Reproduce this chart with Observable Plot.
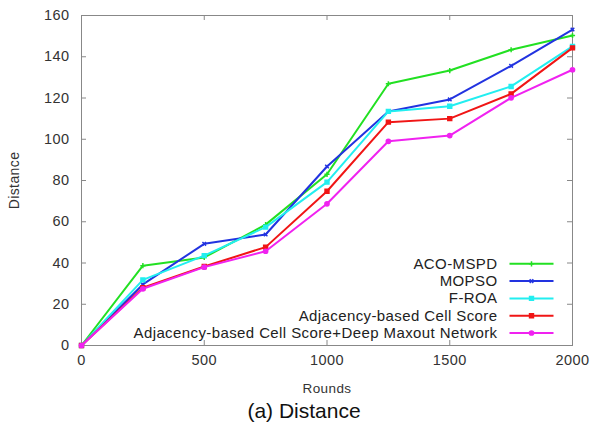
<!DOCTYPE html>
<html>
<head>
<meta charset="utf-8">
<script src="https://cdn.jsdelivr.net/npm/d3@7"></script>
<script src="https://cdn.jsdelivr.net/npm/@observablehq/plot@0.6"></script>
<style>
  body { margin: 0; background: #fff; }
  #caption { width: 572px; padding-left: 18px; text-align: center; font-family: "Liberation Sans", Arial, sans-serif; font-size: 21px; line-height: 26px; color: #111; }
</style>
</head>
<body>
<div id="chart"></div>
<div id="caption">(a) Distance</div>
<script>
const rounds = [0, 250, 500, 750, 1000, 1250, 1500, 1750, 2000];
const acoMspd = [0, 38.7, 42.7, 58.6, 83, 126.9, 133.3, 143.4, 150.3];
const mopso   = [0, 29.6, 49.3, 53.8, 86.8, 113.5, 119.3, 135.6, 153.2];
const fRoa    = [0, 31.8, 43.6, 57.4, 79.2, 113.5, 116, 125.6, 145];
const adjCell = [0, 28, 38.3, 47.7, 74.8, 108.3, 110, 122, 144.3];
const adjDeep = [0, 27.5, 38, 45.7, 68.7, 99, 101.8, 120.1, 133.7];

const seriesNames = ["ACO-MSPD", "MOPSO", "F-ROA", "Adjacency-based Cell Score", "Adjacency-based Cell Score+Deep Maxout Network"];
const seriesValues = [acoMspd, mopso, fRoa, adjCell, adjDeep];
const seriesColors = ["#22e022", "#2233e0", "#22eef0", "#f01515", "#f022f0"];
const seriesSymbols = ["plus", "times", "square", "square", "circle"];
const symbolRadius = [1.8, 1.8, 2.2, 2.2, 2.1];

const xTicks = [0, 500, 1000, 1500, 2000];
const yTicks = [0, 20, 40, 60, 80, 100, 120, 140, 160];

const W = 590, H = 398;
const mL = 81, mR = 18, mT = 15, mB = 53;
const frameH = H - mT - mB, frameW = W - mL - mR;
const tickLen = 5;

const lineSymbol = { draw(ctx) { ctx.moveTo(-22, 0); ctx.lineTo(22, 0); } };

const marks = [
  Plot.frame({ stroke: "#888" }),
  Plot.tickX(xTicks, { x: d => d, stroke: "#888", insetTop: frameH - tickLen }),
  Plot.tickX(xTicks, { x: d => d, stroke: "#888", insetBottom: frameH - tickLen }),
  Plot.tickY(yTicks, { y: d => d, stroke: "#888", insetRight: frameW - tickLen }),
  Plot.tickY(yTicks, { y: d => d, stroke: "#888", insetLeft: frameW - tickLen }),
  Plot.axisX({ ticks: xTicks, tickFormat: d => String(d), tickSize: 0, tickPadding: 9, label: null, fill: "#333", fontSize: 14.5 }),
  Plot.axisY({ ticks: yTicks, tickFormat: d => String(d), tickSize: 0, tickPadding: 12, label: null, fill: "#333", fontSize: 14.5 }),
  Plot.text(["Rounds"], { frameAnchor: "bottom", dy: 43, textAnchor: "middle", lineAnchor: "middle", text: d => d, fontSize: 13.5, fill: "#333" }),
  Plot.text(["Distance"], { frameAnchor: "left", dx: -67, rotate: -90, textAnchor: "middle", lineAnchor: "middle", text: d => d, fontSize: 14, fill: "#333" })
];

seriesNames.forEach((name, i) => {
  const rows = rounds.map((r, j) => ({ round: r, value: seriesValues[i][j] }));
  marks.push(Plot.line(rows, { x: "round", y: "value", stroke: seriesColors[i], strokeWidth: 2 }));
  marks.push(Plot.dot(rows, { x: "round", y: "value", symbol: seriesSymbols[i], r: symbolRadius[i], fill: seriesColors[i], stroke: seriesColors[i], strokeWidth: 1.5 }));
});

seriesNames.forEach((name, i) => {
  const dy = -12.5 - (seriesNames.length - 1 - i) * 17.3;
  marks.push(Plot.text([name], { frameAnchor: "bottom-right", dx: -75, dy, text: d => d, textAnchor: "end", lineAnchor: "middle", fontSize: 15, fill: "#222" }));
  marks.push(Plot.dot([name], { frameAnchor: "bottom-right", dx: -41, dy, symbol: lineSymbol, r: 5, fill: "none", stroke: seriesColors[i], strokeWidth: 2 }));
  marks.push(Plot.dot([name], { frameAnchor: "bottom-right", dx: -41, dy, symbol: seriesSymbols[i], r: symbolRadius[i], fill: seriesColors[i], stroke: seriesColors[i], strokeWidth: 1.5 }));
});

const chart = Plot.plot({
  width: W, height: H,
  marginLeft: mL, marginRight: mR, marginTop: mT, marginBottom: mB,
  x: { domain: [0, 2000] },
  y: { domain: [0, 160] },
  style: { fontFamily: "'Liberation Sans', Arial, sans-serif", fontSize: "14px", color: "#333", background: "#fff", letterSpacing: "0.4px" },
  marks
});
document.getElementById("chart").appendChild(chart);
</script>
</body>
</html>
